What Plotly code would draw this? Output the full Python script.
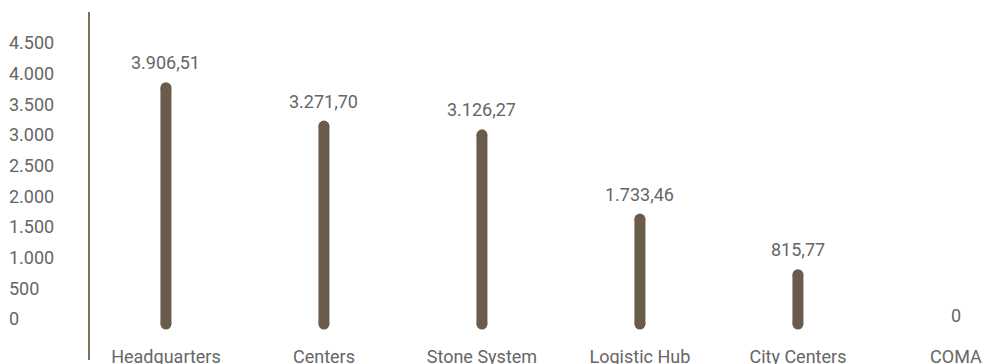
import plotly.graph_objects as go

categories = ["Headquarters", "Centers", "Stone System", "Logistic Hub", "City Centers", "COMA"]
values = [3906.51, 3271.70, 3126.27, 1733.46, 815.77, 0]
tick_values = [0, 500, 1000, 1500, 2000, 2500, 3000, 3500, 4000, 4500]

BAR = "#6a5c4d"
AXIS = "#7d6e60"
TEXT = "#666666"
FONT = "Roboto"
FS = 18


def eu(v, dec):
    s = f"{v:,.{dec}f}"
    return s.replace(",", "X").replace(".", ",").replace("X", ".")


def label(v):
    return "0" if v == 0 else eu(v, 2)


# stems (only for non-zero values)
xs, ys = [], []
for c, v in zip(categories, values):
    if v > 0:
        xs += [c, c, None]
        ys += [0, v, None]

fig = go.Figure()
fig.add_trace(go.Scatter(
    x=xs, y=ys, mode="lines+markers",
    line=dict(color=BAR, width=11),
    marker=dict(color=BAR, size=11, symbol="circle", line=dict(width=0)),
    hoverinfo="skip", showlegend=False,
))
# invisible trace to attach the label axis
fig.add_trace(go.Scatter(x=categories, y=[0] * len(categories), yaxis="y2", mode="markers",
                         marker=dict(opacity=0), hoverinfo="skip", showlegend=False))

# value labels
for c, v in zip(categories, values):
    fig.add_annotation(x=c, y=v, xref="x", yref="y", text=label(v), showarrow=False,
                       xanchor="center", yanchor="middle",
                       yshift=25 if v > 0 else 9,
                       font=dict(family=FONT, size=FS, color=TEXT))

H = 364
B = 26
fig.update_layout(
    width=985, height=H,
    margin=dict(l=0, r=0, t=0, b=B, autoexpand=False),
    paper_bgcolor="white", plot_bgcolor="white",
    font=dict(family=FONT, size=FS, color=TEXT),
    xaxis=dict(
        domain=[89 / 985, 1], type="category",
        categoryorder="array", categoryarray=categories,
        range=[-0.487, 5.184],
        showgrid=False, zeroline=False, showline=False, ticks="",
        ticklabelstandoff=6, tickfont=dict(family=FONT, size=FS, color=TEXT),
        automargin=False,
    ),
    yaxis=dict(
        range=[-231.4, 5355], showgrid=False, zeroline=False, showline=False,
        showticklabels=False, ticks="", automargin=False,
    ),
    yaxis2=dict(
        overlaying="y", side="right", anchor="free", position=0,
        range=[-309.8, 5201], tickvals=tick_values,
        ticktext=[eu(t, 0) for t in tick_values],
        showgrid=False, zeroline=False, showline=False, ticks="",
        ticklabelstandoff=8, tickfont=dict(family=FONT, size=FS, color=TEXT),
        automargin=False,
    ),
)

ph = H - B
fig.add_shape(type="line", xref="paper", yref="paper",
              x0=89 / 985, x1=89 / 985, y0=(ph - 12) / ph, y1=(ph - 360) / ph,
              line=dict(color=AXIS, width=2))

fig.write_html("out.html", config={"displayModeBar": False},
               post_script="document.body.style.margin='0';document.body.style.overflow='hidden';")
